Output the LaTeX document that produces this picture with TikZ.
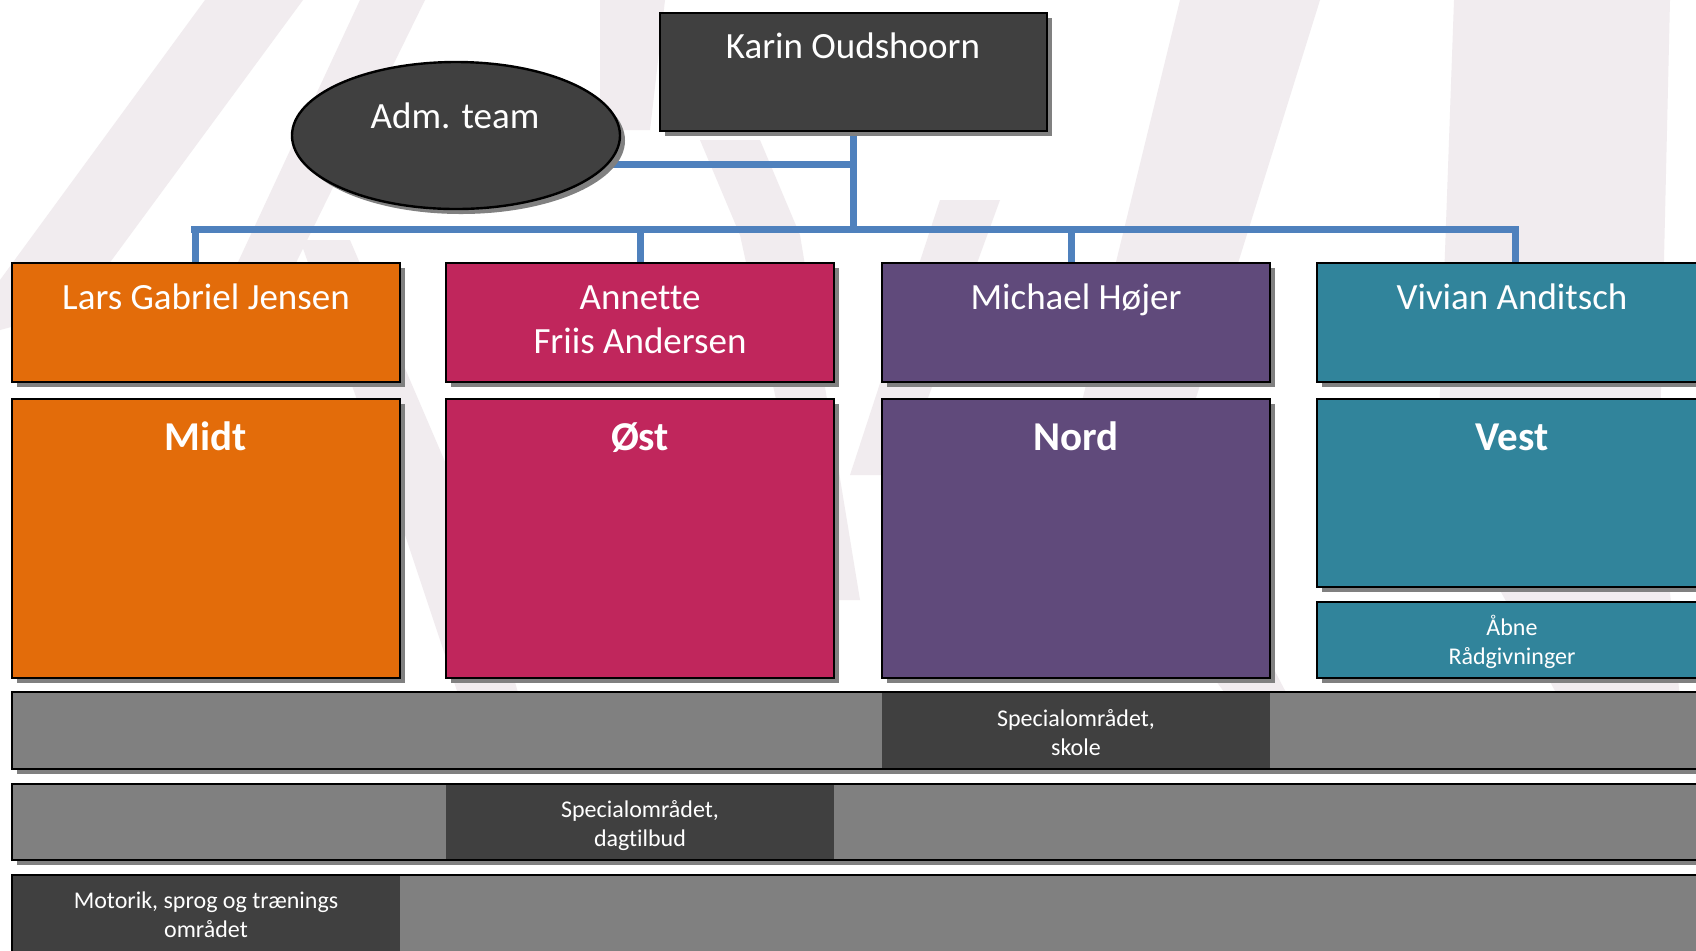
\documentclass[tikz,border=0pt]{standalone}
\usepackage{fontspec}
\setmainfont{Carlito}[Ligatures=NoCommon]
\usetikzlibrary{shadows,shapes.geometric}
\pgfdeclarelayer{wmk}
\pgfdeclarelayer{lines}
\pgfsetlayers{wmk,lines,main}
\definecolor{dk}{HTML}{404040}
\definecolor{orng}{HTML}{E36C0A}
\definecolor{crim}{HTML}{C0265C}
\definecolor{purp}{HTML}{604A7B}
\definecolor{teal}{HTML}{31849B}
\definecolor{bargray}{HTML}{808080}
\definecolor{conblue}{HTML}{4F81BD}
\definecolor{wm}{HTML}{F1ECEF}
\tikzset{
  shad/.style={drop shadow={shadow xshift=2.5pt, shadow yshift=-2.5pt, fill=black!50, opacity=1}},
  box/.style={draw=black, line width=1.2pt, inner sep=0pt, outer sep=0pt, anchor=north west, shad},
  plain/.style={inner sep=0pt, outer sep=0pt, anchor=north west},
  conn/.style={draw=conblue, line width=3.5pt},
  bigtxt/.style={text=white, anchor=base, align=center, inner sep=0pt, font=\fontsize{18.5}{22}\selectfont},
  boldtxt/.style={text=white, anchor=base, inner sep=0pt, font=\bfseries\fontsize{20.5}{24}\selectfont},
  smalltxt/.style={text=white, anchor=base, align=center, inner sep=0pt, font=\fontsize{12}{14.5}\selectfont},
}
\begin{document}
\begin{tikzpicture}[x=0.5pt,y=-0.5pt]
\useasboundingbox (0,0) rectangle (1696,950);
\begin{pgfonlayer}{wmk}
\fill[white] (0,0) rectangle (1696,950);
% faint watermark strokes
\fill[wm] (205,0) -- (303,0) -- (75,310) -- (0,330) -- (0,280) -- cycle;
\fill[wm] (360,0) -- (425,0) -- (290,275) -- (232,275) -- cycle;
\fill[wm] (300,240) -- (350,240) -- (470,520) -- (520,700) -- (460,700) -- (400,520) -- cycle;
\fill[wm] (600,0) -- (665,0) -- (650,130) -- (600,130) -- cycle;
\fill[wm] (700,140) -- (760,140) -- (800,235) -- (860,600) -- (820,600) -- (740,235) -- cycle;
\fill[wm] (940,200) -- (1000,200) -- (900,475) -- (850,475) -- cycle;
\fill[wm] (1180,0) -- (1320,0) -- (1172,475) -- (1290,700) -- (1230,700) -- (1064,475) -- cycle;
\fill[wm] (1454,0) -- (1670,0) -- (1659,475) -- (1680,700) -- (1560,700) -- (1437,475) -- cycle;
\end{pgfonlayer}

% top level
\node[box, fill=dk, minimum width=193.5pt, minimum height=59pt] (karin) at (660,13) {};
\node[bigtxt] (karint) at (853,58.5) {Karin Oudshoorn};
\node[ellipse, draw=black, line width=1.2pt, fill=dk, inner sep=0pt, minimum width=164pt, minimum height=73.5pt, shad] (adm) at (456,135.5) {};
\node[bigtxt] (admt) at (455,128) {Adm. team};

% connector points
\coordinate (hub) at (853.5,229);
\coordinate (admj) at (853.5,164.5);
\coordinate (busL) at (191,229);
\coordinate (busR) at (1519,229);
\coordinate (d1) at (195,229);
\coordinate (d2) at (640,229);
\coordinate (d3) at (1071,229);
\coordinate (d4) at (1515,229);

% name boxes
\node[box, fill=orng, minimum width=194pt, minimum height=59.5pt] (lars) at (12,263) {};
\node[box, fill=crim, minimum width=194pt, minimum height=59.5pt] (ann) at (446,263) {};
\node[box, fill=purp, minimum width=194pt, minimum height=59.5pt] (mich) at (882,263) {};
\node[box, fill=teal, minimum width=195pt, minimum height=59.5pt] (viv) at (1317,263) {};

\begin{pgfonlayer}{lines}
\draw[conn] (karin.south) -- (hub);
\draw[conn] (adm.center |- admj) -- (admj);
\draw[conn] (busL) -- (busR);
\draw[conn] (d1) -- (d1 |- lars.north);
\draw[conn] (d2) -- (d2 |- ann.north);
\draw[conn] (d3) -- (d3 |- mich.north);
\draw[conn] (d4) -- (d4 |- viv.north);
\end{pgfonlayer}

\node[bigtxt] (larst) at (206,309.5) {Lars Gabriel Jensen};
\node[bigtxt] (annt) at (640,353.5) {Annette\\Friis Andersen};
\node[bigtxt] (micht) at (1076,309.5) {Michael Højer};
\node[bigtxt] (vivt) at (1512,309.5) {Vivian Anditsch};

% region boxes
\node[box, fill=orng, minimum width=194pt, minimum height=139.5pt] (midt) at (12,399) {};
\node[box, fill=crim, minimum width=194pt, minimum height=139.5pt] (ost) at (446,399) {};
\node[box, fill=purp, minimum width=194pt, minimum height=139.5pt] (nord) at (882,399) {};
\node[box, fill=teal, minimum width=195pt, minimum height=94pt] (vest) at (1317,399) {};
\node[box, fill=teal, minimum width=195pt, minimum height=38pt] (abne) at (1317,602) {};

\node[boldtxt] (midtt) at (206,450) {Midt};
\node[boldtxt] (ostt) at (640,450) {Øst};
\node[boldtxt] (nordt) at (1076,450) {Nord};
\node[boldtxt] (vestt) at (1512,450) {Vest};
\node[smalltxt] (abnet) at (1512,664) {Åbne\\Rådgivninger};

% bars
\node[box, fill=bargray, minimum width=860pt, minimum height=38.5pt] (bar1) at (12,692) {};
\node[plain, fill=dk, minimum width=194pt, minimum height=38.5pt] (skole) at (882,692) {};
\draw[black, line width=1.2pt] (bar1.north west) rectangle (bar1.south east);
\node[smalltxt] (skolet) at (1076,755) {Specialområdet,\\skole};

\node[box, fill=bargray, minimum width=860pt, minimum height=38pt] (bar2) at (12,784) {};
\node[plain, fill=dk, minimum width=194pt, minimum height=38pt] (dag) at (446,784) {};
\draw[black, line width=1.2pt] (bar2.north west) rectangle (bar2.south east);
\node[smalltxt] (dagt) at (640,846) {Specialområdet,\\dagtilbud};

\node[box, fill=bargray, minimum width=860pt, minimum height=40pt] (bar3) at (12,875) {};
\node[plain, fill=dk, minimum width=194pt, minimum height=40pt] (mot) at (12,875) {};
\draw[black, line width=1.2pt] (bar3.north west) rectangle (bar3.south east);
\node[smalltxt] (mott) at (206,937) {Motorik, sprog og trænings\\området};
\end{tikzpicture}
\end{document}
